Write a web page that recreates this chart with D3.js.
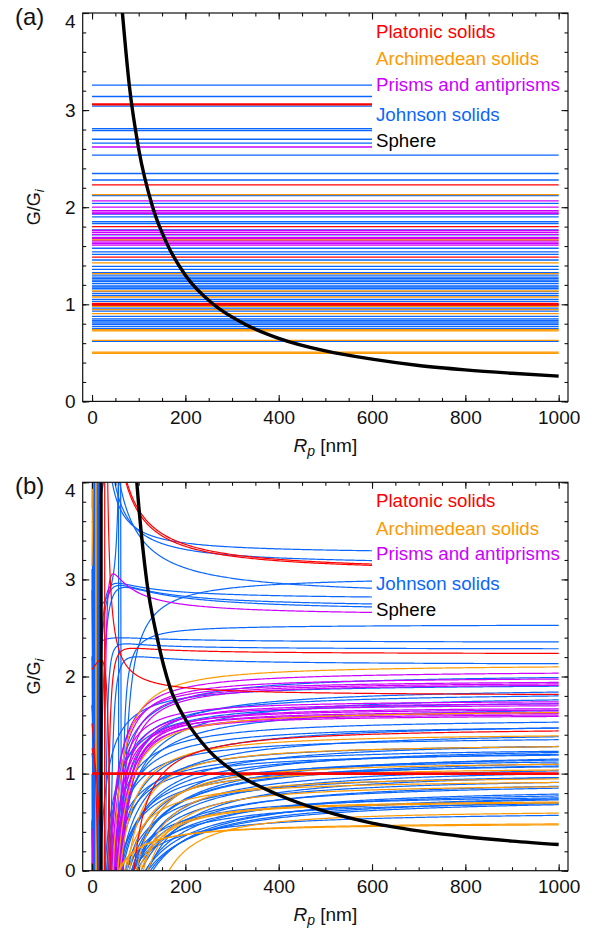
<!DOCTYPE html>
<html>
<head>
<meta charset="utf-8">
<title>G/Gi versus particle radius</title>
<style>
  body { margin: 0; background: #fff; }
  svg { display: block; font-family: "Liberation Sans", Arial, sans-serif; }
</style>
</head>
<body>
<svg id="chart" width="592" height="930"></svg>
<script src="https://d3js.org/d3.v7.min.js"></script>
<script>
// ---- data ----
// every row: [level G/Gi (panel a), value at Rp = 1000 nm (panel b), Rp where panel-b curve crosses 0 (null = simple pole), pole position Rp]
const platonic = [
  [3.065, 3.12, null, 17], [3.055, 3.108, null, 17.5],
  [2.23, 2.238, 34, 25], [1.80, 1.815, null, 27], [1.485, 1.44, 90, 50],
  [1.008, 1.008, null, 0], [1.0, 1.0, null, 0], [0.992, 0.992, null, 0]
];
const archimedean = [
  [2.13, 2.10, 45, 12], [1.663, 1.63, 55, 15], [1.426, 1.39, 60, 10], [1.316, 1.28, 75, 15],
  [1.137, 1.10, 95, 20], [1.075, 1.04, 80, 15], [0.98, 0.95, 110, 25], [0.945, 0.91, 70, 10],
  [0.903, 0.87, 120, 25], [0.738, 0.71, 100, 20], [0.726, 0.70, 105, 22], [0.629, 0.60, 165, 40],
  [0.508, 0.482, null, 8], [0.496, 0.472, null, 9]
];
const prisms = [
  [2.62, 2.644, 26, 18.6], [2.065, 2.035, 40, 12], [2.00, 1.975, 45, 15], [1.965, 1.94, 38, 10],
  [1.95, 1.925, 50, 18], [1.935, 1.91, 55, 20], [1.76, 1.74, 42, 12], [1.74, 1.72, 60, 22],
  [1.72, 1.70, 48, 14], [1.69, 1.67, 64, 25], [1.675, 1.655, 52, 16], [1.655, 1.635, 58, 20],
  [1.64, 1.62, 46, 12], [1.625, 1.605, 62, 24], [1.61, 1.59, 55, 18]
];
const johnson = [
  [3.258, 3.28, null, 14], [3.14, 3.172, null, 12], [3.04, 3.007, 67, 57], [2.81, 2.869, null, 10],
  [2.79, 2.808, 12.5, 2.3], [2.70, 2.73, 11, -3], [2.66, 2.696, 17, 1], [2.536, 2.527, 65, 62],
  [2.347, 2.356, -17.5, -29], [2.28, 2.286, 29, 22], [2.12, 2.132, 40, 28.6], [2.04, 1.99, 35, 5],
  [1.93, 1.90, null, 2], [1.90, 1.84, 45, 8], [1.85, 1.80, null, 4], [1.83, 1.76, 55, 10],
  [1.766, 1.72, null, 1], [1.715, 1.65, 50, 5], [1.577, 1.53, 38, 4], [1.54, 1.47, null, 6],
  [1.515, 1.47, 45, 3], [1.456, 1.38, null, 8], [1.39, 1.35, 42, 2], [1.36, 1.28, null, 3],
  [1.327, 1.28, 55, 5], [1.30, 1.22, 90, 12], [1.28, 1.23, null, 0], [1.265, 1.2, 65, 6],
  [1.25, 1.15, null, 5], [1.235, 1.19, 48, 4], [1.213, 1.14, 75, 8], [1.19, 1.1, null, 4],
  [1.178, 1.12, 58, 2], [1.16, 1.08, 85, 6], [1.13, 1.07, null, 2], [1.11, 1.03, 95, 10],
  [1.09, 1.0, null, 6], [1.05, 0.96, 120, 12], [1.03, 0.96, null, 3], [0.99, 0.91, 88, 8],
  [0.96, 0.87, 105, 6], [0.93, 0.85, null, 4], [0.876, 0.79, 115, 10], [0.85, 0.77, null, 2],
  [0.835, 0.74, 130, 12], [0.82, 0.73, null, 5], [0.807, 0.75, 70, 3], [0.79, 0.7, 125, 8],
  [0.77, 0.68, null, 3], [0.75, 0.69, 85, 10], [0.619, 0.57, null, 6]
];
// sphere, panel (a)
const sphereA_R = [64, 80, 100, 130, 160, 200, 260, 330, 400, 500, 600, 700, 800, 900, 1000];
const sphereA_G = [4.06, 3.25, 2.6, 2.0, 1.63, 1.3, 1.0, 0.79, 0.65, 0.52, 0.435, 0.37, 0.325, 0.29, 0.26];
// sphere, panel (b)
const sphereB_R = [90, 96, 117, 139, 167, 200, 250, 310, 400, 500, 600, 700, 800, 900, 1000];
const sphereB_G = [4.4, 4.0, 2.99, 2.41, 1.89, 1.56, 1.24, 1.0, 0.78, 0.61, 0.49, 0.41, 0.35, 0.305, 0.27];
const sphereB_pole = 19.5;

const legendLabels = ["Platonic solids", "Archimedean solids", "Prisms and antiprisms", "Johnson solids", "Sphere"];
const xTicks = [0, 200, 400, 600, 800, 1000];
const yTicks = [0, 1, 2, 3, 4];

const colors = ["#ff0000", "#ff9900", "#cc00ff", "#0a66ff", "#000000"];
// drawing order: Johnson first, Platonic last
const families = [
  { rows: johnson, color: colors[3] },
  { rows: prisms, color: colors[2] },
  { rows: archimedean, color: colors[1] },
  { rows: platonic, color: colors[0] }
];

const svg = d3.select("#chart");
const x = d3.scaleLinear().domain([-20, 1020]).range([82.7, 568]);
const H = 388.4;

// finite-size curve for panel (b), built from the row values
function sizeCurve(row) {
  const [L, y1000, z, p] = row;
  const a = (y1000 - L) * (1000 - p);
  let b = 0;
  if (z != null) {
    b = -(L + a / (z - p)) * (z - p) * (z - p);
    if (b > 0) b = 0;
  }
  return R => {
    const u = R - p;
    if (Math.abs(u) < 1e-9) return NaN;
    return L + a / u + b / (u * u);
  };
}
const rGrid = [].concat(d3.range(0, 60, 0.25), d3.range(60, 200, 1), d3.range(200, 1000.001, 4));

function drawPanel(top, tag, isB) {
  const y = d3.scaleLinear().domain([0, 4]).range([top + H, top]);
  const g = svg.append("g");

  svg.append("clipPath").attr("id", "clip-" + tag)
    .append("rect")
    .attr("x", x(-20)).attr("y", top)
    .attr("width", x(1020) - x(-20)).attr("height", H);

  const plot = g.append("g").attr("clip-path", `url(#clip-${tag})`);
  const line = d3.line().x(d => x(d[0])).y(d => y(d[1]));

  families.forEach(f => {
    f.rows.forEach(row => {
      if (!isB) {
        plot.append("line")
          .attr("x1", x(0)).attr("x2", x(1000))
          .attr("y1", y(row[0])).attr("y2", y(row[0]))
          .attr("stroke", f.color).attr("stroke-width", 1.3);
      } else {
        const fn = sizeCurve(row);
        const pts = rGrid.map(R => [R, fn(R)])
          .filter(d => isFinite(d[1]))
          .map(d => [d[0], Math.max(-1, Math.min(5, d[1]))]);
        plot.append("path")
          .attr("d", line(pts))
          .attr("fill", "none")
          .attr("stroke", f.color).attr("stroke-width", 1.2);
      }
    });
  });

  // legend inset covers the curves behind it
  plot.append("rect")
    .attr("x", x(600)).attr("y", top)
    .attr("width", x(1020) - x(600)).attr("height", 140)
    .attr("fill", "#fff");

  // sphere
  const sR = isB ? sphereB_R : sphereA_R;
  const sG = isB ? sphereB_G : sphereA_G;
  const sLine = d3.line().curve(d3.curveMonotoneX).x(d => x(d[0])).y(d => y(d[1]));
  plot.append("path")
    .attr("d", sLine(sR.map((r, i) => [r, sG[i]])))
    .attr("fill", "none").attr("stroke", "#000").attr("stroke-width", 3.4);
  if (isB) {
    plot.append("line")
      .attr("x1", x(sphereB_pole)).attr("x2", x(sphereB_pole))
      .attr("y1", y(-0.1)).attr("y2", y(4.1))
      .attr("stroke", "#000").attr("stroke-width", 3.2);
  }

  // legend text
  const legY = [24.7, 52.3, 77.7, 107.5, 134];
  legendLabels.forEach((t, i) => {
    g.append("text")
      .attr("x", 376).attr("y", top + legY[i])
      .attr("font-size", 18.7)
      .attr("fill", [colors[0], colors[1], colors[2], colors[3], colors[4]][i])
      .text(t);
  });

  // frame
  g.append("rect")
    .attr("x", x(-20)).attr("y", top)
    .attr("width", x(1020) - x(-20)).attr("height", H)
    .attr("fill", "none").attr("stroke", "#111").attr("stroke-width", 1.2);

  // ticks, pointing inwards
  const axisStyle = sel => {
    sel.select(".domain").remove();
    sel.selectAll(".tick line").attr("stroke", "#111").attr("stroke-width", 1.1);
    sel.selectAll(".tick text").attr("font-size", 19).attr("fill", "#111")
      .attr("font-family", "Liberation Sans, Arial, sans-serif");
  };
  const minorX = d3.range(0, 1000.1, 50);
  const minorY = d3.range(0, 4.01, 0.2);

  g.append("g").attr("transform", `translate(0,${top + H})`)
    .call(d3.axisBottom(x).tickValues(minorX).tickSize(-3.5).tickFormat(""))
    .call(axisStyle);
  g.append("g").attr("transform", `translate(0,${top + H})`)
    .call(d3.axisBottom(x).tickValues(xTicks).tickSize(-6.5).tickPadding(9).tickFormat(d3.format("d")))
    .call(axisStyle);
  g.append("g").attr("transform", `translate(0,${top})`)
    .call(d3.axisTop(x).tickValues(minorX).tickSize(-3.5).tickFormat(""))
    .call(axisStyle);
  g.append("g").attr("transform", `translate(0,${top})`)
    .call(d3.axisTop(x).tickValues(xTicks).tickSize(-6.5).tickFormat(""))
    .call(axisStyle);

  g.append("g").attr("transform", `translate(${x(-20)},0)`)
    .call(d3.axisLeft(y).tickValues(minorY).tickSize(-3.5).tickFormat(""))
    .call(axisStyle);
  const left = g.append("g").attr("transform", `translate(${x(-20)},0)`)
    .call(d3.axisLeft(y).tickValues(yTicks).tickSize(-6.5).tickPadding(7).tickFormat(d3.format("d")))
    .call(axisStyle);
  left.selectAll(".tick text").filter(d => d === 4).attr("dy", "0.74em");
  g.append("g").attr("transform", `translate(${x(1020)},0)`)
    .call(d3.axisRight(y).tickValues(minorY).tickSize(-3.5).tickFormat(""))
    .call(axisStyle);
  g.append("g").attr("transform", `translate(${x(1020)},0)`)
    .call(d3.axisRight(y).tickValues(yTicks).tickSize(-6.5).tickFormat(""))
    .call(axisStyle);

  // axis titles
  const xt = g.append("text")
    .attr("x", x(500)).attr("y", top + 439)
    .attr("text-anchor", "middle").attr("font-size", 19).attr("fill", "#111");
  xt.append("tspan").attr("font-style", "italic").text("R");
  xt.append("tspan").attr("font-style", "italic").attr("font-size", 14).attr("dy", 4).text("p");
  xt.append("tspan").attr("dy", -4).text(" [nm]");

  const yt = g.append("text")
    .attr("transform", `translate(40,${y(2)}) rotate(-90)`)
    .attr("text-anchor", "middle").attr("font-size", 18).attr("fill", "#111");
  yt.append("tspan").text("G/G");
  yt.append("tspan").attr("font-style", "italic").attr("font-size", 13).attr("dy", 4).text("i");

  // panel tag
  g.append("text")
    .attr("x", 15).attr("y", top + 12)
    .attr("font-size", 24).attr("fill", "#111")
    .text(`(${tag})`);
}

drawPanel(13, "a", false);
drawPanel(482.3, "b", true);
</script>
</body>
</html>
